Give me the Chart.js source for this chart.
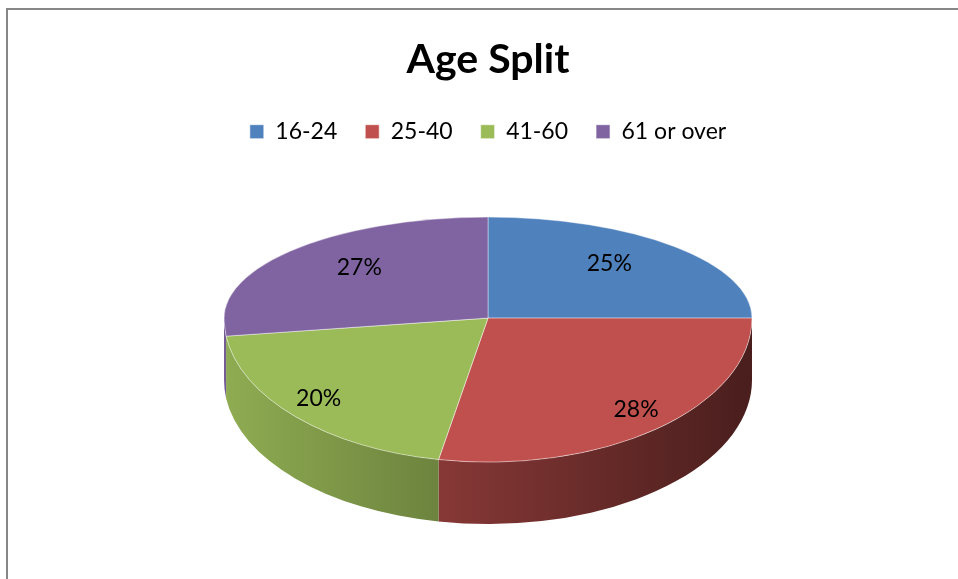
<!DOCTYPE html>
<html>
<head>
<meta charset="utf-8">
<script src="https://cdn.jsdelivr.net/npm/chart.js@4"></script>
<style>
  html, body { margin: 0; padding: 0; background: #fff; overflow: hidden; }
  #frame {
    position: absolute; left: 6px; top: 8px;
    width: 980px; height: 620px;
    border: 2px solid #878787;
  }
</style>
</head>
<body>
<div id="frame"><canvas id="chart" width="960" height="569"></canvas></div>
<script>
const categories = ["16-24", "25-40", "41-60", "61 or over"];
const shares = [25, 28, 20, 27];
const sliceColors = ["#4F81BD", "#C0504D", "#9BBB59", "#8064A2"];

const FONT = "Lato, 'Open Sans', sans-serif";
const BACK_TILT = 101 / 264;   // far half of the top face
const FRONT_TILT = 144 / 264;  // near half of the top face
const DEPTH = 62;

function shade(hex, f) {
  const n = parseInt(hex.slice(1), 16);
  const r = Math.round(((n >> 16) & 255) * f);
  const g = Math.round(((n >> 8) & 255) * f);
  const b = Math.round((n & 255) * f);
  return `rgb(${r},${g},${b})`;
}

// squashes the library's arcs into a tilted disc with a visible rim
const pie3d = {
  id: 'pie3d',
  beforeDatasetsDraw(chart) {
    const ctx = chart.ctx;
    const arcs = chart.getDatasetMeta(0).data;
    const cx = arcs[0].x, cy = arcs[0].y, r = arcs[0].outerRadius;

    // rim, only the front half shows
    arcs.forEach((arc, i) => {
      const a0 = Math.max(arc.startAngle, 0);
      const a1 = Math.min(arc.endAngle, Math.PI);
      if (a1 <= a0) return;
      const grad = ctx.createLinearGradient(cx - r, 0, cx + r, 0);
      grad.addColorStop(0, shade(sliceColors[i], 0.92));
      grad.addColorStop(0.5, shade(sliceColors[i], 0.65));
      grad.addColorStop(1, shade(sliceColors[i], 0.38));
      ctx.save();
      ctx.fillStyle = grad;
      ctx.beginPath();
      ctx.ellipse(cx, cy, r, r * FRONT_TILT, 0, a0, a1);
      ctx.ellipse(cx, cy + DEPTH, r, r * FRONT_TILT, 0, a1, a0, true);
      ctx.closePath();
      ctx.fill();
      ctx.restore();
    });

    // top face, drawn in two halves with different squash
    [[BACK_TILT, cy - r, cy + 1], [FRONT_TILT, cy, cy + r]].forEach(([k, y0, y1]) => {
      ctx.save();
      ctx.beginPath();
      ctx.rect(0, y0, chart.width, y1 - y0);
      ctx.clip();
      ctx.translate(cx, cy);
      ctx.scale(1, k);
      ctx.translate(-cx, -cy);
      arcs.forEach(arc => arc.draw(ctx));
      ctx.restore();
    });
    return false;
  },
  afterDraw(chart) {
    const ctx = chart.ctx;
    const arcs = chart.getDatasetMeta(0).data;
    const total = shares.reduce((a, b) => a + b, 0);
    ctx.save();
    ctx.font = `23px ${FONT}`;
    ctx.fillStyle = '#000';
    ctx.textAlign = 'center';
    ctx.textBaseline = 'middle';
    arcs.forEach((arc, i) => {
      const mid = (arc.startAngle + arc.endAngle) / 2;
      const front = Math.sin(mid) > 0;
      const fx = front ? 0.88 : 0.65;
      const fy = front ? 0.82 : 0.76;
      const k = front ? FRONT_TILT : BACK_TILT;
      const x = arc.x + Math.cos(mid) * arc.outerRadius * fx;
      const y = arc.y + Math.sin(mid) * arc.outerRadius * k * fy;
      ctx.fillText(Math.round(shares[i] / total * 100) + '%', x, y);
    });
    ctx.restore();
  }
};

new Chart(document.getElementById('chart'), {
  type: 'pie',
  data: {
    labels: categories,
    datasets: [{
      data: shares,
      backgroundColor: sliceColors,
      borderColor: 'rgba(255,255,255,0.6)',
      borderWidth: 1,
      radius: 264,
      clip: false
    }]
  },
  options: {
    responsive: false,
    animation: false,
    layout: { padding: { top: 0, bottom: 96, left: 0, right: 0 } },
    plugins: {
      title: {
        display: true,
        text: 'Age Split',
        color: '#000',
        font: { family: FONT, size: 41, weight: 'bold' },
        padding: { top: 25, bottom: 8 }
      },
      legend: {
        position: 'top',
        labels: {
          color: '#000',
          boxWidth: 14,
          boxHeight: 14,
          padding: 28,
          font: { family: FONT, size: 23 }
        }
      },
      tooltip: { enabled: false }
    }
  },
  plugins: [pie3d]
});
</script>
</body>
</html>
